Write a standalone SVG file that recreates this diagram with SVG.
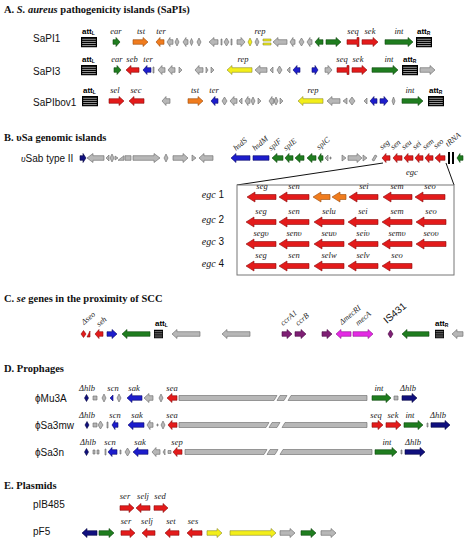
<svg xmlns="http://www.w3.org/2000/svg" xmlns:xlink="http://www.w3.org/1999/xlink" width="474" height="542" viewBox="0 0 474 542">
<style>
path{stroke-width:.6;stroke-linejoin:miter}
.r{fill:#e31b1b;stroke:#8c0b0b}
.g{fill:#1f7d1f;stroke:#0e460e}
.b{fill:#1d1dcc;stroke:#0a0a6a}
.n{fill:#10107e;stroke:#050540}
.o{fill:#f07c1e;stroke:#9a4a0a}
.y{fill:#f3ee1a;stroke:#8a8a2a}
.a{fill:#b7b7b7;stroke:#666}
.p{fill:#7e1f74;stroke:#4a0a44}
.m{fill:#e42ae4;stroke:#8a108a}
.gl{font:italic 8.5px "Liberation Serif",serif;text-anchor:middle;fill:#222}
.gr{font:italic 8px "Liberation Serif",serif;fill:#222}
.rl{font:10px "Liberation Sans",sans-serif;fill:#111}
.tt{font:bold 10.5px "Liberation Serif",serif;fill:#111}
.at{font:bold 8px "Liberation Sans",sans-serif;fill:#000}
.el{font:italic 10px "Liberation Serif",serif;fill:#111;text-anchor:end}
.cn{stroke:#111;stroke-width:1;fill:none}
</style>
<defs>
<symbol id="att" viewBox="0 0 16 11" preserveAspectRatio="none"><rect x="0" y="0" width="16" height="11" fill="#000"/><path d="M1.2 2.4H14.8M1.2 4.6H14.8M1.2 6.8H14.8M1.2 9H14.8" stroke="#fff" stroke-width="1"/></symbol>
</defs>
<rect width="474" height="542" fill="#fff"/>

<!-- Section A -->
<text class="tt" x="4" y="13">A. <tspan font-style="italic">S. aureus</tspan> pathogenicity islands (SaPIs)</text>

<g id="SaPI1">
<text class="rl" x="33" y="41.5">SaPI1</text>
<g transform="translate(0,42)">
<text class="at" x="82" y="-8">att<tspan font-size="5" dy="1">L</tspan></text>
<use href="#att" x="81" y="-5" width="16" height="10.5"/>
<path class="g" d="M113,-2.3H116V-4.5L120,0L116,4.5V2.3H113Z"/>
<path class="o" d="M133,-2.3H143V-4.5L148,0L143,4.5V2.3H133Z"/>
<path class="o" d="M164,-2.3H160V-4.5L156,0L160,4.5V2.3H164Z"/>
<path class="a" d="M173,-2.3H170V-4.5L167,0L170,4.5V2.3H173Z M175,0L177,-4L179,0L177,4Z M188,-2.3H186V-4.5L183,0L186,4.5V2.3H188Z M190,0L191.5,-3.5L193,0L191.5,3.5Z M197,0L199,-4L201,0L199,4Z M218,-2.3H214V-4.5L209,0L214,4.5V2.3H218Z M221,-3H222V3H221Z M224,0L226.5,-4L229,0L226.5,4Z M231,-3H232V3H231Z M237,-2.3H241V-4.5L245,0L241,4.5V2.3H237Z"/>
<path class="y" d="M248,0L250,-4L252,0L250,4Z M263,-3H271V-1H263Z M263,1H271V3H263Z"/>
<path class="a" d="M255,0L257,-4L259,0L257,4Z M287,-2.3H278V-4.5L273,0L278,4.5V2.3H287Z M295,-2.3H293V-4.5L290,0L293,4.5V2.3H295Z M299,0L301.5,-4L304,0L301.5,4Z M312,-2.3H310V-4.5L307,0L310,4.5V2.3H312Z"/>
<path class="g" d="M323,-2.3H319V-4.5L315,0L319,4.5V2.3H323Z M326,-2.3H336V-4.5L341,0L336,4.5V2.3H326Z"/>
<path class="r" d="M347,-2.3H357V-4.5H359V4.5H357V2.3H347Z M362,-2.3H373V-4.5L378,0L373,4.5V2.3H362Z"/>
<path class="g" d="M385,-2.3H408V-4.5L413,0L408,4.5V2.3H385Z"/>
<text class="at" x="417" y="-8">att<tspan font-size="5" dy="1">R</tspan></text>
<use href="#att" x="416" y="-5" width="16" height="10.5"/>
<text class="gl" x="116" y="-8">ear</text><text class="gl" x="141" y="-8">tst</text><text class="gl" x="161" y="-8">ter</text>
<text class="gl" x="260" y="-8">rep</text><text class="gl" x="353" y="-8">seq</text><text class="gl" x="370" y="-8">sek</text><text class="gl" x="399" y="-8">int</text>
</g>
</g>

<g id="SaPI3">
<text class="rl" x="33" y="74.5">SaPI3</text>
<g transform="translate(0,70)">
<text class="at" x="82" y="-8">att<tspan font-size="5" dy="1">L</tspan></text>
<use href="#att" x="81" y="-5" width="16" height="10.5"/>
<path class="g" d="M114,-2.3H117V-4.5L121,0L117,4.5V2.3H114Z"/>
<path class="r" d="M139,-2.3H131V-4.5L126,0L131,4.5V2.3H139Z"/>
<path class="b" d="M151,-2.3H147V-4.5L143,0L147,4.5V2.3H151Z"/>
<path class="a" d="M153,-3H154V3H153Z M165,-2.3H162V-4.5L158,0L162,4.5V2.3H165Z M175,-2.3H172V-4.5L168,0L172,4.5V2.3H175Z M179,-3L182,0L179,3Z M203,-2.3H199V-4.5L195,0L199,4.5V2.3H203Z M206,-3L208,0L206,3Z M211,-3L214,0L211,3Z"/>
<path class="y" d="M252,-2.3H232V-4.5L227,0L232,4.5V2.3H252Z"/>
<path class="a" d="M267,-2.3H260V-4.5L255,0L260,4.5V2.3H267Z M273,-3L270,0L273,3Z M277,0L279.5,-4L282,0L279.5,4Z M290,-3L287,0L290,3Z"/>
<path class="b" d="M300,-2.3H297V-4.5L293,0L297,4.5V2.3H300Z M312,-2.3H315V-4.5L318,0L315,4.5V2.3H312Z"/>
<path class="a" d="M325,-2.3H328V-4.5L332,0L328,4.5V2.3H325Z"/>
<path class="r" d="M337,-2.3H347V-4.5H349V4.5H347V2.3H337Z M352,-2.3H362V-4.5L367,0L362,4.5V2.3H352Z"/>
<path class="g" d="M372,-2.3H393V-4.5L398,0L393,4.5V2.3H372Z"/>
<text class="at" x="403" y="-8">att<tspan font-size="5" dy="1">R</tspan></text>
<use href="#att" x="402" y="-5" width="16" height="10.5"/>
<path class="a" d="M420,-2.3H430V-4.5L435,0L430,4.5V2.3H420Z"/>
<text class="gl" x="117" y="-8">ear</text><text class="gl" x="132" y="-8">seb</text><text class="gl" x="148" y="-8">ter</text>
<text class="gl" x="243" y="-8">rep</text><text class="gl" x="342" y="-8">seq</text><text class="gl" x="358" y="-8">sek</text><text class="gl" x="389" y="-8">int</text>
</g>
</g>

<g id="SaPIbov1">
<text class="rl" x="33" y="105.5">SaPIbov1</text>
<g transform="translate(0,101)">
<text class="at" x="83" y="-8">att<tspan font-size="5" dy="1">L</tspan></text>
<use href="#att" x="82" y="-5" width="16" height="10.5"/>
<path class="r" d="M109,-2.3H119V-4.5L124,0L119,4.5V2.3H109Z M144,-2.3H134V-4.5L129,0L134,4.5V2.3H144Z"/>
<path class="a" d="M170,-2.3H166V-4.5L162,0L166,4.5V2.3H170Z"/>
<path class="o" d="M188,-2.3H198V-4.5L203,0L198,4.5V2.3H188Z"/>
<path class="b" d="M218,-2.3H215V-4.5L211,0L215,4.5V2.3H218Z"/>
<path class="a" d="M222,0L224.5,-4L227,0L224.5,4Z M237,-2.3H234V-4.5L230,0L234,4.5V2.3H237Z M242,-3L239,0L242,3Z M250,-2.3H248V-4.5L245,0L248,4.5V2.3H250Z M251,0L253,-4L255,0L253,4Z M258,-3L261,0L258,3Z M274,-2.3H272V-4.5L269,0L272,4.5V2.3H274Z M274,0L276,-4L278,0L276,4Z M280,-3L283,0L280,3Z"/>
<path class="y" d="M323,-2.3H303V-4.5L298,0L303,4.5V2.3H323Z"/>
<path class="a" d="M340,-2.3H332V-4.5L327,0L332,4.5V2.3H340Z M347,-3L343,0L347,3Z M349,0L352,-4L355,0L352,4Z M367,-3L364,0L367,3Z M392,0L393.5,-4L395,0L393.5,4Z"/>
<path class="b" d="M377,-2.3H374V-4.5L370,0L374,4.5V2.3H377Z M380,-2.3H384V-4.5L388,0L384,4.5V2.3H380Z"/>
<path class="g" d="M402,-2.3H418V-4.5L423,0L418,4.5V2.3H402Z"/>
<text class="at" x="429" y="-8">att<tspan font-size="5" dy="1">R</tspan></text>
<use href="#att" x="428" y="-5" width="16" height="10.5"/>
<text class="gl" x="115" y="-8">sel</text><text class="gl" x="136" y="-8">sec</text><text class="gl" x="195" y="-8">tst</text>
<text class="gl" x="214" y="-8">ter</text><text class="gl" x="313" y="-8">rep</text><text class="gl" x="410" y="-8">int</text>
</g>
</g>

<!-- Section B -->
<text class="tt" x="4" y="141">B. υSa genomic islands</text>

<g id="vSab">
<text class="rl" x="21" y="162"><tspan font-family="Liberation Serif" font-style="italic">υ</tspan>Sab type II</text>
<g transform="translate(0,158)">
<path class="n" d="M80,-2.3H83V-4.5L86,0L83,4.5V2.3H80Z"/>
<path class="a" d="M104,-2.3H93V-4.5L87,0L93,4.5V2.3H104Z M109,-3L106,0L109,3Z M110,0L112,-4L114,0L112,4Z M115,-2L118,0L115,2Z M118,2.3L124,-2.3V2.3Z M125,-2.3H131V2.3H125Z M133,-2.3H154V-4.5L160,0L154,4.5V2.3H133Z M164,0L166,-4L168,0L166,4Z M173,-2.3H183V-4.5L188,0L183,4.5V2.3H173Z M192,-3L196,0L192,3Z M213,-2.3H204V-4.5L199,0L204,4.5V2.3H213Z"/>
<path class="b" d="M250,-2.3H236V-4.5L231,0L236,4.5V2.3H250Z M253,-2.3H269V2.3H253Z"/>
<path class="g" d="M283,-2.3H277V-4.5L272,0L277,4.5V2.3H283Z M293,-2.3H289V-4.5L285,0L289,4.5V2.3H293Z M304,-2.3H300V-4.5L295,0L300,4.5V2.3H304Z M316,-2.3H312V-4.5L307,0L312,4.5V2.3H316Z M323,-2.3H321V-4.5L318,0L321,4.5V2.3H323Z"/>
<path class="a" d="M328,-3L325,0L328,3Z M330,-1H331V1H330Z M342,-3L346,0L342,3Z M348,-2.3H357V-4.5L362,0L357,4.5V2.3H348Z M363,-3L367,0L363,3Z M372,2L375,-3L377,-2L374,3Z"/>
<path class="r" d="M390,-2.3H386V-4.5L382,0L386,4.5V2.3H390Z M402,-2.3H397V-4.5L393,0L397,4.5V2.3H402Z M413,-2.3H408V-4.5L404,0L408,4.5V2.3H413Z M423,-2.3H419V-4.5L415,0L419,4.5V2.3H423Z M433,-2.3H429V-4.5L425,0L429,4.5V2.3H433Z M445,-2.3H440V-4.5L435,0L440,4.5V2.3H445Z"/>
<rect x="448" y="-6" width="2" height="12" fill="#000"/><rect x="452" y="-6" width="2" height="12" fill="#000"/>
<path class="g" d="M463,-2.3H460V-4.5L457,0L460,4.5V2.3H463Z"/>
</g>
<text class="gr" transform="translate(236,151) rotate(-40)">hsdS</text>
<text class="gr" transform="translate(255,151) rotate(-40)">hsdM</text>
<text class="gr" transform="translate(271,151) rotate(-40)">splF</text>
<text class="gr" transform="translate(286,151) rotate(-40)">splE</text>
<text class="gr" transform="translate(319,150) rotate(-40)">splC</text>
<text class="gr" transform="translate(382,150) rotate(-40)">seg</text>
<text class="gr" transform="translate(393,150) rotate(-40)">sen</text>
<text class="gr" transform="translate(404,150) rotate(-40)">seu</text>
<text class="gr" transform="translate(415,150) rotate(-40)">sei</text>
<text class="gr" transform="translate(425,150) rotate(-40)">sem</text>
<text class="gr" transform="translate(436,149) rotate(-40)">seo</text>
<text class="gr" font-style="normal" transform="translate(448,147) rotate(-40)">tRNA</text>
<text class="gl" x="412" y="175" font-weight="bold">egc</text>
</g>

<g id="connectors">
<line class="cn" x1="383" y1="163" x2="237" y2="185"/>
<line class="cn" x1="446" y1="163" x2="454" y2="185"/>
</g>

<g id="egc-box">
<rect x="237" y="185" width="217" height="90" fill="#fff" stroke="#777" stroke-width="1"/>
<g id="egc1" transform="translate(0,197)">
<text class="el" x="224" y="1">egc<tspan font-style="normal" font-family="Liberation Sans"> 1</tspan></text>
<path class="r" d="M276,-2.5H255V-5L247,0L255,5V2.5H276Z M309,-2.5H287V-5L279,0L287,5V2.5H309Z M378,-2.5H357V-5L349,0L357,5V2.5H378Z M412,-2.5H391V-5L383,0L391,5V2.5H412Z M445,-2.5H423V-5L415,0L423,5V2.5H445Z"/>
<path class="o" d="M330,-2.5H321V-5L313,0L321,5V2.5H330Z M346,-2.5H340V-5L332,0L340,5V2.5H346Z"/>
<text class="gl" x="262" y="-8">seg</text><text class="gl" x="294" y="-8">sen</text><text class="gl" x="364" y="-8">sei</text><text class="gl" x="397" y="-8">sem</text><text class="gl" x="430" y="-8">seo</text>
</g>
<g id="egc2" transform="translate(0,222)">
<text class="el" x="224" y="1">egc<tspan font-style="normal" font-family="Liberation Sans"> 2</tspan></text>
<path class="r" d="M276,-2.5H254V-5L246,0L254,5V2.5H276Z M309,-2.5H287V-5L279,0L287,5V2.5H309Z M344,-2.5H322V-5L314,0L322,5V2.5H344Z M378,-2.5H356V-5L348,0L356,5V2.5H378Z M412,-2.5H390V-5L382,0L390,5V2.5H412Z M446,-2.5H424V-5L416,0L424,5V2.5H446Z"/>
<text class="gl" x="261" y="-8">seg</text><text class="gl" x="294" y="-8">sen</text><text class="gl" x="329" y="-8">selu</text><text class="gl" x="363" y="-8">sei</text><text class="gl" x="397" y="-8">sem</text><text class="gl" x="431" y="-8">seo</text>
</g>
<g id="egc3" transform="translate(0,244)">
<text class="el" x="224" y="1">egc<tspan font-style="normal" font-family="Liberation Sans"> 3</tspan></text>
<path class="r" d="M276,-2.5H254V-5L246,0L254,5V2.5H276Z M309,-2.5H287V-5L279,0L287,5V2.5H309Z M344,-2.5H322V-5L314,0L322,5V2.5H344Z M378,-2.5H356V-5L348,0L356,5V2.5H378Z M412,-2.5H390V-5L382,0L390,5V2.5H412Z M446,-2.5H424V-5L416,0L424,5V2.5H446Z"/>
<text class="gl" x="261" y="-8">segυ</text><text class="gl" x="294" y="-8">senυ</text><text class="gl" x="329" y="-8">seuυ</text><text class="gl" x="363" y="-8">seiυ</text><text class="gl" x="397" y="-8">semυ</text><text class="gl" x="431" y="-8">seoυ</text>
</g>
<g id="egc4" transform="translate(0,266)">
<text class="el" x="224" y="1">egc<tspan font-style="normal" font-family="Liberation Sans"> 4</tspan></text>
<path class="r" d="M276,-2.5H254V-5L246,0L254,5V2.5H276Z M309,-2.5H287V-5L279,0L287,5V2.5H309Z M344,-2.5H322V-5L314,0L322,5V2.5H344Z M378,-2.5H356V-5L348,0L356,5V2.5H378Z M412,-2.5H390V-5L382,0L390,5V2.5H412Z"/>
<text class="gl" x="261" y="-8">seg</text><text class="gl" x="294" y="-8">sen</text><text class="gl" x="329" y="-8">selw</text><text class="gl" x="363" y="-8">selv</text><text class="gl" x="397" y="-8">seo</text>
</g>
</g>

<!-- Section C -->
<text class="tt" x="4" y="302">C. <tspan font-style="italic">se</tspan> genes in the proximity of SCC</text>
<g id="SCC">
<g transform="translate(0,334)">
<path class="r" d="M81,0L83.5,-3.5L86,0L83.5,3.5Z M87,3L90,-3V3Z M103,-2.3H99V-4.5L95,0L99,4.5V2.3H103Z"/>
<path class="b" d="M107,-2.3H112V-4.5L117,0L112,4.5V2.3H107Z"/>
<path class="g" d="M150,-2.3H127V-4.5L122,0L127,4.5V2.3H150Z"/>
<text class="at" x="155" y="-8">att<tspan font-size="5" dy="1">L</tspan></text>
<use href="#att" x="154" y="-4.5" width="9" height="9"/>
<path class="a" d="M200,-2.3H177V-4.5L172,0L177,4.5V2.3H200Z M250,-2.3H227V-4.5L222,0L227,4.5V2.3H250Z"/>
<path class="p" d="M282,-2.3H287V-4.5L292,0L287,4.5V2.3H282Z M295,-2.3H301V-4.5L306,0L301,4.5V2.3H295Z M322,-2.3H327V-4.5L332,0L327,4.5V2.3H322Z M388,0L390.5,-4L393,0L390.5,4Z"/>
<path class="m" d="M351,-2.3H341V-4.5L336,0L341,4.5V2.3H351Z M353,-2.3H368V-4.5L373,0L368,4.5V2.3H353Z"/>
<path class="g" d="M429,-2.3H407V-4.5L402,0L407,4.5V2.3H429Z"/>
<text class="at" x="435" y="-8">att<tspan font-size="5" dy="1">R</tspan></text>
<use href="#att" x="435" y="-4.5" width="9" height="9"/>
<path class="a" d="M463,-2.3H457V-4.5L452,0L457,4.5V2.3H463Z"/>
</g>
<text class="gr" transform="translate(84,325) rotate(-40)">Δseo</text>
<text class="gr" transform="translate(99,327) rotate(-40)">seh</text>
<text class="gr" transform="translate(283,326) rotate(-40)">ccrA1</text>
<text class="gr" transform="translate(298,326) rotate(-40)">ccrB</text>
<text class="gr" transform="translate(342,325) rotate(-40)">ΔmecRI</text>
<text class="gr" transform="translate(358,326) rotate(-40)">mecA</text>
<text class="rl" font-size="8" transform="translate(387,324) rotate(-40)">IS431</text>
</g>

<!-- Section D -->
<text class="tt" x="4" y="372">D. Prophages</text>
<g id="Mu3A">
<text class="rl" x="35" y="402">ϕMu3A</text>
<g transform="translate(0,398)">
<path class="n" d="M84.5,0L86.5,-3.5L88.5,0L86.5,3.5Z M402,-2.3H412V-4.5L417,0L412,4.5V2.3H402Z"/>
<path class="a" d="M93,-2H97V2H93Z M102,0L104,-4L106,0L104,4Z M117,0L119,-4L121,0L119,4Z M153,-2.3H149V-4.5L144,0L149,4.5V2.3H153Z M159,0L161,-4L163,0L161,4Z M179,-2.5H277L274,2.5H179Z M280,-2.5H287L284,2.5H277Z M291,-2.5H367V2.5H288Z M394,-2H398V2H394Z"/>
<path class="b" d="M113,-3L110,0L113,3Z M142,-2.3H132V-4.5L127,0L132,4.5V2.3H142Z"/>
<path class="r" d="M177,-2.3H172V-4.5L167,0L172,4.5V2.3H177Z"/>
<path class="g" d="M372,-2.3H386V-4.5L391,0L386,4.5V2.3H372Z"/>
<text class="gl" x="87" y="-7">Δhlb</text><text class="gl" x="113" y="-7">scn</text><text class="gl" x="134" y="-7">sak</text><text class="gl" x="172" y="-7">sea</text><text class="gl" x="379" y="-7">int</text><text class="gl" x="408" y="-7">Δhlb</text>
</g>
</g>
<g id="Sa3mw">
<text class="rl" x="35" y="429">ϕSa3mw</text>
<g transform="translate(0,425)">
<path class="n" d="M85,0L87,-3.5L89,0L87,3.5Z M431,-2.3H445V-4.5L450,0L445,4.5V2.3H431Z"/>
<path class="a" d="M93,-2H97V2H93Z M98,0L100.5,-4L103,0L100.5,4Z M107,-3H108V3H107Z M153,-2.3H150V-4.5L147,0L150,4.5V2.3H153Z M157,-1H158V1H157Z M161,0L163,-4L165,0L163,4Z M179,-2.5H269L266,2.5H179Z M272,-2.5H280L277,2.5H269Z M285,-2.5H367V2.5H282Z M427,-2H428V2H427Z"/>
<path class="b" d="M118,-2.3H115V-4.5L112,0L115,4.5V2.3H118Z M144,-2.3H133V-4.5L128,0L133,4.5V2.3H144Z"/>
<path class="r" d="M177,-2.3H172V-4.5L168,0L172,4.5V2.3H177Z M372,-2.3H378V-4.5L383,0L378,4.5V2.3H372Z M386,-2.3H396V-4.5L401,0L396,4.5V2.3H386Z"/>
<path class="g" d="M404,-2.3H418V-4.5L423,0L418,4.5V2.3H404Z"/>
<text class="gl" x="87" y="-7">Δhlb</text><text class="gl" x="115" y="-7">scn</text><text class="gl" x="137" y="-7">sak</text><text class="gl" x="172" y="-7">sea</text><text class="gl" x="376" y="-7">seq</text><text class="gl" x="393" y="-7">sek</text><text class="gl" x="410" y="-7">int</text><text class="gl" x="438" y="-7">Δhlb</text>
</g>
</g>
<g id="Sa3n">
<text class="rl" x="35" y="456">ϕSa3n</text>
<g transform="translate(0,452)">
<path class="n" d="M84.5,0L86.5,-3.5L88.5,0L86.5,3.5Z M405,-2.3H420V-4.5L425,0L420,4.5V2.3H405Z"/>
<path class="a" d="M93,-2H95V2H93Z M97,-2H99V2H97Z M105,-3H106V3H105Z M120,-2H121V2H120Z M125,0L127.5,-4L130,0L127.5,4Z M160,-2.3H156V-4.5L152,0L156,4.5V2.3H160Z M165,-3L163,0L165,3Z M168,-1.5H171V1.5H168Z M185,-2.5H267L264,2.5H185Z M270,-2.5H278L275,2.5H267Z M283,-2.5H372V2.5H280Z M401,-2H402V2H401Z"/>
<path class="b" d="M117,-2.3H112V-4.5L108,0L112,4.5V2.3H117Z M148,-2.3H138V-4.5L133,0L138,4.5V2.3H148Z"/>
<path class="r" d="M182,-2.3H177V-4.5L173,0L177,4.5V2.3H182Z"/>
<path class="g" d="M375,-2.3H392V-4.5L397,0L392,4.5V2.3H375Z"/>
<text class="gl" x="88" y="-7">Δhlb</text><text class="gl" x="110" y="-7">scn</text><text class="gl" x="140" y="-7">sak</text><text class="gl" x="177" y="-7">sep</text><text class="gl" x="387" y="-7">int</text><text class="gl" x="413" y="-7">Δhlb</text>
</g>
</g>

<!-- Section E -->
<text class="tt" x="4" y="489">E. Plasmids</text>
<g id="pIB485">
<text class="rl" x="33" y="508">pIB485</text>
<g transform="translate(0,508)">
<path class="r" d="M120,-2.3H129V-4.5L134,0L129,4.5V2.3H120Z M150,-2.3H141V-4.5L136,0L141,4.5V2.3H150Z M154,-2.3H163V-4.5L168,0L163,4.5V2.3H154Z"/>
<text class="gl" x="125" y="-9">ser</text><text class="gl" x="143" y="-9">selj</text><text class="gl" x="160" y="-9">sed</text>
</g>
</g>
<g id="pF5">
<text class="rl" x="33" y="535">pF5</text>
<g transform="translate(0,533)">
<path class="n" d="M97,-2.3H87V-4.5L82,0L87,4.5V2.3H97Z"/>
<path class="g" d="M99,-2.3H109V-4.5L114,0L109,4.5V2.3H99Z M301,-2.3H311V-4.5L316,0L311,4.5V2.3H301Z"/>
<path class="r" d="M121,-2.3H130V-4.5L135,0L130,4.5V2.3H121Z M155,-2.3H147V-4.5L142,0L147,4.5V2.3H155Z M179,-2.3H170V-4.5L165,0L170,4.5V2.3H179Z M202,-2.3H192V-4.5L187,0L192,4.5V2.3H202Z"/>
<path class="y" d="M207,-2.3H217V-4.5L222,0L217,4.5V2.3H207Z M230,-2.3H271V-4.5L276,0L271,4.5V2.3H230Z"/>
<path class="a" d="M280,-2.3H290V-4.5L295,0L290,4.5V2.3H280Z M321,-2.3H331V-4.5L336,0L331,4.5V2.3H321Z"/>
<text class="gl" x="126" y="-9">ser</text><text class="gl" x="147" y="-9">selj</text><text class="gl" x="171" y="-9">set</text><text class="gl" x="193" y="-9">ses</text>
</g>
</g>
</svg>
